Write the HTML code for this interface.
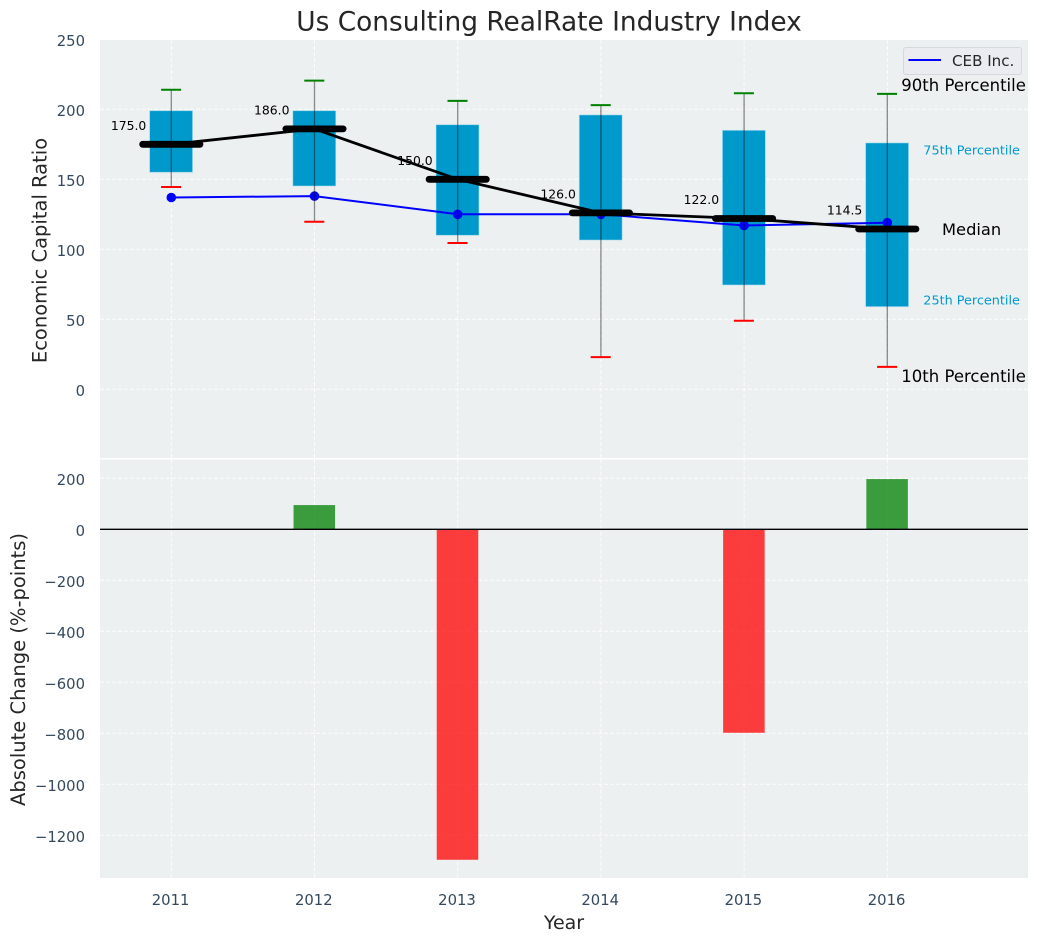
<!DOCTYPE html>
<html lang="en">
<head>
<meta charset="utf-8">
<title>Us Consulting RealRate Industry Index</title>
<style>
html,body{margin:0;padding:0;background:#fff;width:1039px;height:942px;overflow:hidden}
svg{display:block}
text{font-family:"DejaVu Sans","Liberation Sans",sans-serif}
</style>
</head>
<body>
<svg id="chart" xmlns="http://www.w3.org/2000/svg" width="1039" height="942" viewBox="0 0 1039 942"></svg>
<script>
const years = [2011, 2012, 2013, 2014, 2015, 2016];
const p90 = [214, 220.5, 206, 203, 211.5, 211];
const p75 = [199, 199, 189, 196, 185, 176];
const medians = [175, 186, 150, 126, 122, 114.5];
const p25 = [155, 145.2, 110, 106.6, 74.5, 59];
const p10 = [144.5, 119.7, 104.5, 23, 49, 16];
const ceb = [137, 138, 125, 125, 117, 119];
const changes = [0, 95, -1296, 0, -798, 197];
const topTicks = [0, 50, 100, 150, 200, 250];
const bottomTicks = [-1200, -1000, -800, -600, -400, -200, 0, 200];

const NS = 'http://www.w3.org/2000/svg';
const svg = document.getElementById('chart');
const LEFT = 100, RIGHT = 1028;
const TOP1 = 40, BOT1 = 458, TOP2 = 459.5, BOT2 = 878;

function x(year) { return 171.3 + (year - 2011) * 143.2; }
function yTop(v) { return 389.3 - v * 1.4; }
function yBot(v) { return 529.3 - v * 0.255; }

function el(tag, attrs, parent, txt) {
  const e = document.createElementNS(NS, tag);
  for (const k in attrs) e.setAttribute(k, attrs[k]);
  if (txt !== undefined) e.textContent = txt;
  (parent || svg).appendChild(e);
  return e;
}
function fmtTick(v) { return v < 0 ? '\u2212' + Math.abs(v) : String(v); }

/* title */
const title = el('text', {x: 549, y: 30.5, 'text-anchor': 'middle', 'font-size': 26.4, fill: '#262626'}, svg, 'Us Consulting RealRate Industry Index');



/* axes backgrounds */
const bgTop = el('rect', {x: LEFT, y: TOP1, width: RIGHT - LEFT, height: BOT1 - TOP1, fill: '#ecf0f1'});


const bgBot = el('rect', {x: LEFT, y: TOP2, width: RIGHT - LEFT, height: BOT2 - TOP2, fill: '#ecf0f1'});



/* grid + tick labels */
const gridStyle = {stroke: '#ffffff', 'stroke-width': 1, 'stroke-dasharray': '4 2', 'stroke-opacity': 0.85};
const tickStyle = {'font-size': 14.8, fill: '#34495e'};

topTicks.forEach(function (t) {
  const yy = yTop(t);
  if (yy >= TOP1) {
    const g = el('line', Object.assign({x1: LEFT, x2: RIGHT, y1: yy, y2: yy}, gridStyle));
    
    
  }
  const lab = el('text', Object.assign({x: 85, y: yy + 6.5, 'text-anchor': 'end'}, tickStyle), svg, fmtTick(t));
  
  
});
bottomTicks.forEach(function (t) {
  const yy = yBot(t);
  const g = el('line', Object.assign({x1: LEFT, x2: RIGHT, y1: yy, y2: yy}, gridStyle));
  
  
  const lab = el('text', Object.assign({x: 85, y: yy + 6.5, 'text-anchor': 'end'}, tickStyle), svg, fmtTick(t));
  
  
});
years.forEach(function (yr) {
  const g1 = el('line', Object.assign({x1: x(yr), x2: x(yr), y1: TOP1, y2: BOT1}, gridStyle));
  
  
  const g2 = el('line', Object.assign({x1: x(yr), x2: x(yr), y1: TOP2, y2: BOT2}, gridStyle));
  
  
  const lab = el('text', Object.assign({x: x(yr) - 0.7, y: 905, 'text-anchor': 'middle'}, tickStyle), svg, String(yr));
  
  
});

/* axis titles */
const yt1 = el('text', {transform: 'translate(46.5,250.5) rotate(-90)', 'text-anchor': 'middle', 'font-size': 19.5, fill: '#262626'}, svg, 'Economic Capital Ratio');


const yt2 = el('text', {transform: 'translate(25,669.5) rotate(-90)', 'text-anchor': 'middle', 'font-size': 19.5, fill: '#262626'}, svg, 'Absolute Change (%-points)');


const xt = el('text', {x: 564, y: 929, 'text-anchor': 'middle', 'font-size': 19, fill: '#262626'}, svg, 'Year');



/* boxes */
const BOX_W = 0.3, CAP_W = 0.14, MED_W = 0.4, BAR_W = 0.29;
years.forEach(function (yr, i) {
  const b = el('rect', {x: x(yr) - BOX_W * 71.6 - 0.2, y: yTop(p75[i]), width: BOX_W * 143.2, height: yTop(p25[i]) - yTop(p75[i]), fill: '#0099cc', stroke: '#b5dfee', 'stroke-opacity': 0.7, 'stroke-width': 0.8});
  
  
});

/* CEB series */
const cebLine = el('polyline', {points: years.map(function (yr, i) { return x(yr) + ',' + yTop(ceb[i]); }).join(' '), fill: 'none', stroke: '#0000ff', 'stroke-width': 2});


years.forEach(function (yr, i) {
  const c = el('circle', {cx: x(yr), cy: yTop(ceb[i]), r: 4.8, fill: '#0000ff'});
  
  
});

/* whiskers + caps */
years.forEach(function (yr, i) {
  const w = el('line', {x1: x(yr), x2: x(yr), y1: yTop(p90[i]), y2: yTop(p10[i]), stroke: '#000000', 'stroke-opacity': 0.45, 'stroke-width': 1.3});
  
  
  const hi = el('line', {x1: x(yr) - CAP_W * 71.6 - 0.2, x2: x(yr) + CAP_W * 71.6 - 0.2, y1: yTop(p90[i]), y2: yTop(p90[i]), stroke: '#008000', 'stroke-width': 2});
  
  
  const lo = el('line', {x1: x(yr) - CAP_W * 71.6 - 0.2, x2: x(yr) + CAP_W * 71.6 - 0.2, y1: yTop(p10[i]), y2: yTop(p10[i]), stroke: '#ff0000', 'stroke-width': 2});
  
  
});

/* median labels, trend line, median bars */
years.forEach(function (yr, i) {
  const t = el('text', {x: x(yr) - 25, y: yTop(medians[i]) - 14.3, 'text-anchor': 'end', 'font-size': 12.4, fill: '#000000'}, svg, medians[i].toFixed(1));
  
  
});
const medLine = el('polyline', {points: years.map(function (yr, i) { return x(yr) + ',' + yTop(medians[i]); }).join(' '), fill: 'none', stroke: '#000000', 'stroke-width': 2.8});


years.forEach(function (yr, i) {
  const m = el('line', {x1: x(yr) - MED_W * 71.6, x2: x(yr) + MED_W * 71.6, y1: yTop(medians[i]), y2: yTop(medians[i]), stroke: '#000000', 'stroke-width': 6.8, 'stroke-linecap': 'round'});
  
  
});

/* percentile annotations */
const a90 = el('text', {x: 901.3, y: 91, 'font-size': 16.5, fill: '#000000'}, svg, '90th Percentile');


const a75 = el('text', {x: 923.3, y: 154.3, 'font-size': 12.8, fill: '#0099cc'}, svg, '75th Percentile');


const aMed = el('text', {x: 942, y: 235, 'font-size': 16.3, fill: '#000000'}, svg, 'Median');


const a25 = el('text', {x: 923.3, y: 304.3, 'font-size': 12.8, fill: '#0099cc'}, svg, '25th Percentile');


const a10 = el('text', {x: 901.3, y: 382, 'font-size': 16.5, fill: '#000000'}, svg, '10th Percentile');



/* legend */
const legend = el('g', {});


const legBox = el('rect', {x: 903.5, y: 47.5, width: 118, height: 27, rx: 2.5, fill: '#eaecf1', stroke: '#d5d8dc', 'stroke-width': 1}, legend);


const legLine = el('line', {x1: 908.5, x2: 941, y1: 60, y2: 60, stroke: '#0000ff', 'stroke-width': 2}, legend);


const legText = el('text', {x: 952, y: 66, 'font-size': 15.1, fill: '#262626'}, legend, 'CEB Inc.');



/* change bars */
years.forEach(function (yr, i) {
  const v = changes[i];
  if (v === 0) return;
  const y0 = yBot(Math.max(v, 0));
  const y1 = yBot(Math.min(v, 0));
  const r = el('rect', {x: x(yr) - BAR_W * 71.6 - 0.2, y: y0, width: BAR_W * 143.2, height: y1 - y0, fill: v > 0 ? '#008000' : '#ff0000', 'fill-opacity': 0.75});
  
  
});
const zero = el('line', {x1: LEFT, x2: RIGHT, y1: yBot(0), y2: yBot(0), stroke: '#000000', 'stroke-width': 1.3});


</script>
</body>
</html>
